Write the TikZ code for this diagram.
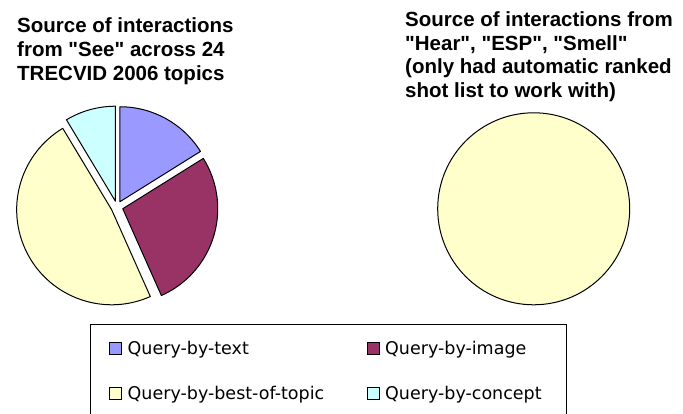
\documentclass[tikz,border=0pt]{standalone}
\usepackage{fontspec}
\setmainfont{Liberation Sans}
\newfontfamily\titlefont{Liberation Sans}
\newfontfamily\legfont{DejaVu Sans}
\definecolor{qtext}{HTML}{9999FF}
\definecolor{qimage}{HTML}{993366}
\definecolor{qbest}{HTML}{FFFFCC}
\definecolor{qconcept}{HTML}{CCFFFF}
\begin{document}
\begin{tikzpicture}[x=1pt,y=1pt,
  slice/.style={draw=black, line width=1pt, line join=round},
  titletext/.style={anchor=base west, inner sep=0pt, font=\titlefont\fontsize{20.5}{24}\selectfont\bfseries},
  legtext/.style={anchor=base west, inner sep=0pt, font=\legfont\fontsize{17.5}{20}\selectfont},
  legmark/.style={draw=black, line width=1pt, minimum size=12pt, inner sep=0pt},
  frame/.style={draw=black, line width=1pt}]
\useasboundingbox (0,0) rectangle (683,414);
% left title
\node[titletext] (lt1) at (17,381) {Source of interactions};
\node[titletext] (lt2) at (17,357) {from "See" across 24};
\node[titletext] (lt3) at (17,333.5) {TRECVID 2006 topics};
% right title
\node[titletext] (rt1) at (405,387.3) {Source of interactions from};
\node[titletext] (rt2) at (405,363.7) {"Hear", "ESP", "Smell"};
\node[titletext] (rt3) at (405,340) {(only had automatic ranked};
\node[titletext] (rt4) at (405,316.3) {shot list to work with)};
% left pie
\begin{scope}[shift={(117,207)}]
  \filldraw[slice, fill=qtext, shift={(61:6)}] (0,0) -- (90:95) arc[start angle=90, end angle=32, radius=95] -- cycle;
  \filldraw[slice, fill=qimage, shift={(-17:6)}] (0,0) -- (32:95) arc[start angle=32, end angle=-66, radius=95] -- cycle;
  \filldraw[slice, fill=qbest, shift={(-152.5:6)}] (0,0) -- (-66:95) arc[start angle=-66, end angle=-239, radius=95] -- cycle;
  \filldraw[slice, fill=qconcept, shift={(105.5:6)}] (0,0) -- (121:95) arc[start angle=121, end angle=90, radius=95] -- cycle;
\end{scope}
% right pie
\filldraw[slice, fill=qbest] (533.7,205.2) circle[radius=96];
% legend frame
\draw[frame] (90,-2) |- (566,89) -- (566,-2);
% legend entries
\node[legmark, fill=qtext] (m1) at (115,65) {};
\node[legtext] (l1) at (127.5,59) {Query-by-text};
\node[legmark, fill=qimage] (m2) at (373,65) {};
\node[legtext] (l2) at (385,59) {Query-by-image};
\node[legmark, fill=qbest] (m3) at (115,20) {};
\node[legtext] (l3) at (127.5,14) {Query-by-best-of-topic};
\node[legmark, fill=qconcept] (m4) at (373,20) {};
\node[legtext] (l4) at (385,14) {Query-by-concept};
\end{tikzpicture}
\end{document}
